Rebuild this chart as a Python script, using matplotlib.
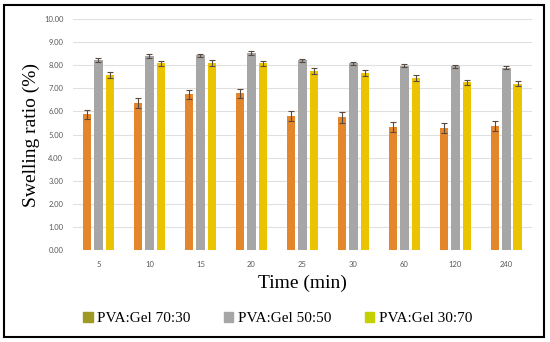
import matplotlib
matplotlib.use("Agg")
import matplotlib.pyplot as plt
import matplotlib.patches as mpatches
import numpy as np

# swelling ratio (%) vs time (min)
times = ["5", "10", "15", "20", "25", "30", "60", "120", "240"]
series_names = ["PVA:Gel 70:30", "PVA:Gel 50:50", "PVA:Gel 30:70"]
gel_70_30 = [5.87, 6.38, 6.74, 6.78, 5.80, 5.74, 5.31, 5.29, 5.37]
gel_50_50 = [8.23, 8.40, 8.44, 8.54, 8.21, 8.08, 7.98, 7.95, 7.89]
gel_30_70 = [7.57, 8.08, 8.11, 8.08, 7.75, 7.66, 7.46, 7.26, 7.20]
err_70_30 = [0.21, 0.22, 0.21, 0.21, 0.22, 0.22, 0.22, 0.21, 0.21]
err_50_50 = [0.08, 0.07, 0.07, 0.08, 0.07, 0.07, 0.06, 0.07, 0.07]
err_30_70 = [0.13, 0.12, 0.12, 0.11, 0.12, 0.12, 0.12, 0.10, 0.10]

bar_colors = ["#E4862C", "#A6A6A6", "#EAC400"]
legend_colors = ["#9E9A24", "#A6A6A6", "#C4D000"]

fig = plt.figure(figsize=(5.5, 3.42), dpi=100)
ax = fig.add_axes([0.1327, 0.269, 0.8343, 0.675])

x = np.arange(len(times))
w = 0.17
step = 0.225
for i, (vals, errs) in enumerate([(gel_70_30, err_70_30),
                                  (gel_50_50, err_50_50),
                                  (gel_30_70, err_30_70)]):
    ax.bar(x + (i - 1) * step, vals, width=w, color=bar_colors[i], zorder=3,
           yerr=errs, error_kw=dict(ecolor="#5a4a40", elinewidth=0.8,
                                    capsize=2, capthick=0.8))

ax.set_xlim(-0.5, len(times) - 0.5)
ax.set_ylim(0, 10)
ax.set_yticks(np.arange(0, 11, 1))
ax.set_yticklabels(["%.2f" % v for v in np.arange(0, 11, 1)])
ax.set_xticks(x)
ax.set_xticklabels(times)
ax.tick_params(length=0, labelsize=5.5, labelcolor="#595959")
ax.tick_params(axis="y", pad=7)
ax.tick_params(axis="x", pad=8)
for lab in ax.get_xticklabels() + ax.get_yticklabels():
    lab.set_family("Lato")
ax.grid(axis="y", color="#E0E0E0", linewidth=0.8, zorder=0)
for s in ax.spines.values():
    s.set_visible(False)

ax.set_ylabel("Swelling ratio (%)", family="Liberation Serif", fontsize=14,
              labelpad=3)
ax.set_xlabel("Time (min)", family="Liberation Serif", fontsize=14, labelpad=5)

handles = [mpatches.Patch(color=c) for c in legend_colors]
fig.legend(handles, series_names, loc="center", bbox_to_anchor=(0.505, 0.068),
           ncol=3, frameon=False, handlelength=0.6, handleheight=0.6,
           handletextpad=0.3, columnspacing=2.2,
           prop=dict(family="Liberation Serif", size=11))

# frame around the whole figure
fig.patches.append(mpatches.Rectangle((4 / 550, 5 / 342), 540 / 550, 332 / 342,
                                      transform=fig.transFigure, fill=False,
                                      edgecolor="black", linewidth=1.5))

fig.savefig("out.png", dpi=100)
